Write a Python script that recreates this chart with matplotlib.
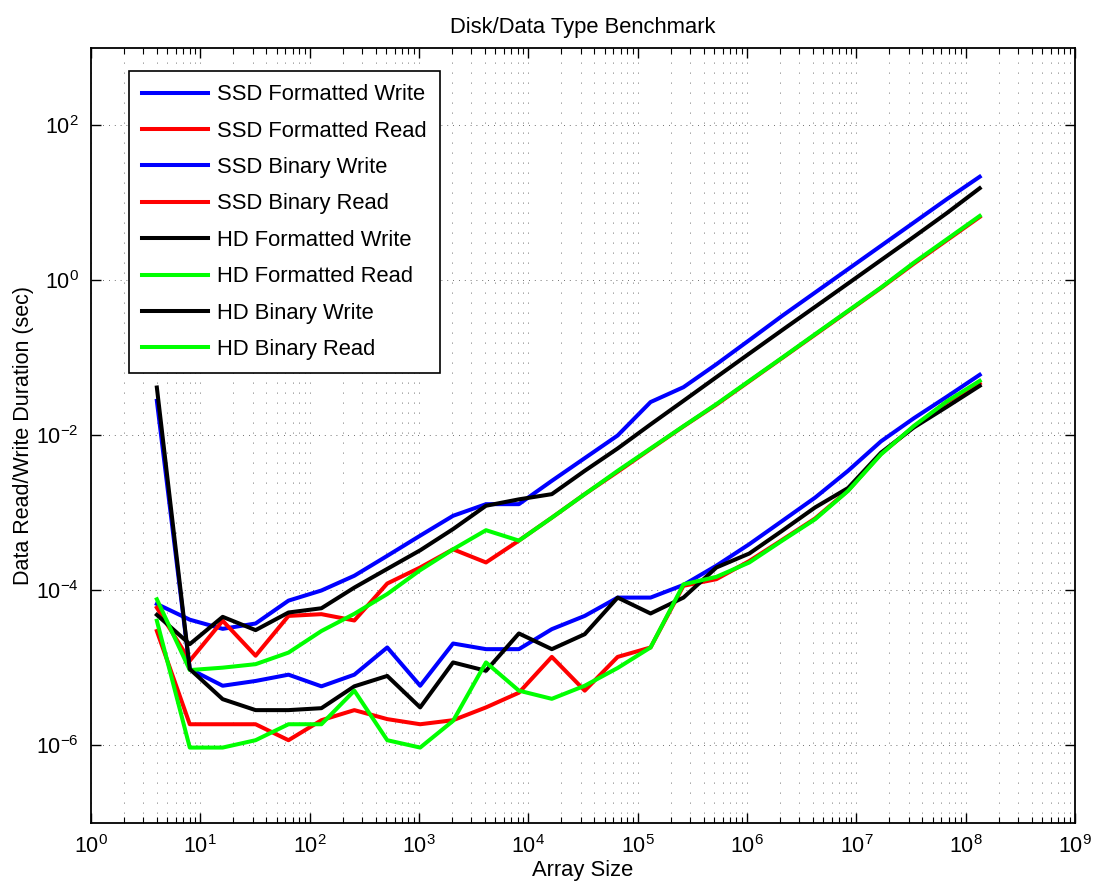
import numpy as np
import matplotlib
matplotlib.use('Agg')
import matplotlib.pyplot as plt
from matplotlib.ticker import LogLocator, NullLocator, NullFormatter

plt.rcParams['font.family'] = ['Liberation Sans', 'DejaVu Sans']
plt.rcParams['mathtext.fontset'] = 'custom'
plt.rcParams['mathtext.rm'] = 'Liberation Sans'

# array sizes (2^2 .. 2^27)
array_size = [4, 8, 16, 32, 64, 128, 256, 512, 1024, 2048, 4096, 8192,
              16384, 32768, 65536, 131072, 262144, 524288, 1048576,
              2097152, 4194304, 8388608, 16777216, 33554432, 67108864,
              134217728]

ssd_fmt_write = [6.7e-5, 4.2e-5, 3.2e-5, 3.75e-5, 7.4e-5, 1.0e-4, 1.55e-4,
                 2.8e-4, 5.1e-4, 9.2e-4, 1.3e-3, 1.3e-3, 2.6e-3, 5.1e-3,
                 1.0e-2, 0.027, 0.042, 0.083, 0.17, 0.35, 0.70, 1.4, 2.8,
                 5.6, 11.2, 21.8]
ssd_fmt_read = [6.0e-5, 1.24e-5, 4.07e-5, 1.44e-5, 4.7e-5, 4.95e-5, 4.1e-5,
                1.23e-4, 1.98e-4, 3.4e-4, 2.3e-4, 4.4e-4, 8.7e-4, 1.75e-3,
                3.4e-3, 6.7e-3, 0.0131, 0.025, 0.050, 0.10, 0.20, 0.40,
                0.80, 1.65, 3.3, 6.6]
ssd_bin_write = [0.028, 9.7e-6, 5.9e-6, 6.8e-6, 8.2e-6, 5.8e-6, 8.2e-6,
                 1.84e-5, 5.9e-6, 2.07e-5, 1.75e-5, 1.75e-5, 3.17e-5, 4.7e-5,
                 8.1e-5, 8.1e-5, 1.18e-4, 2.09e-4, 3.96e-4, 7.9e-4, 1.58e-3,
                 3.5e-3, 8.4e-3, 0.0167, 0.0316, 0.0607]
ssd_bin_read = [3.0e-5, 1.88e-6, 1.88e-6, 1.88e-6, 1.17e-6, 2.12e-6, 2.86e-6,
                2.19e-6, 1.88e-6, 2.12e-6, 3.1e-6, 4.8e-6, 1.39e-5, 5.1e-6,
                1.39e-5, 1.84e-5, 1.15e-4, 1.4e-4, 2.4e-4, 4.5e-4, 8.5e-4,
                1.95e-3, 5.8e-3, 0.013, 0.027, 0.047]
hd_fmt_write = [4.85e-5, 2.03e-5, 4.57e-5, 3.08e-5, 5.2e-5, 5.9e-5, 1.09e-4,
                1.9e-4, 3.3e-4, 6.2e-4, 1.24e-3, 1.5e-3, 1.75e-3, 3.5e-3,
                6.8e-3, 0.0139, 0.028, 0.0566, 0.114, 0.229, 0.457, 0.914,
                1.83, 3.66, 7.4, 15.5]
hd_fmt_read = [7.7e-5, 9.4e-6, 1.01e-5, 1.12e-5, 1.58e-5, 3.0e-5, 5.0e-5,
               9.0e-5, 1.83e-4, 3.4e-4, 6.0e-4, 4.4e-4, 8.7e-4, 1.75e-3,
               3.5e-3, 6.8e-3, 0.0132, 0.0254, 0.0507, 0.101, 0.203, 0.406,
               0.81, 1.7, 3.4, 6.8]
hd_bin_write = [0.0416, 9.7e-6, 3.96e-6, 2.86e-6, 2.86e-6, 3.03e-6, 5.8e-6,
                7.9e-6, 3.1e-6, 1.18e-5, 9.2e-6, 2.79e-5, 1.75e-5, 2.73e-5,
                8.1e-5, 5.05e-5, 8.1e-5, 1.98e-4, 3.0e-4, 5.9e-4, 1.18e-3,
                2.1e-3, 6.0e-3, 0.0127, 0.0234, 0.0437]
hd_bin_read = [4.07e-5, 9.4e-7, 9.4e-7, 1.17e-6, 1.88e-6, 1.88e-6, 5.1e-6,
               1.17e-6, 9.4e-7, 2.08e-6, 1.18e-5, 5.1e-6, 4.0e-6, 5.9e-6,
               1.0e-5, 1.84e-5, 1.2e-4, 1.5e-4, 2.3e-4, 4.4e-4, 8.3e-4,
               1.93e-3, 5.7e-3, 0.0133, 0.0275, 0.0507]

labels = ['SSD Formatted Write', 'SSD Formatted Read', 'SSD Binary Write',
          'SSD Binary Read', 'HD Formatted Write', 'HD Formatted Read',
          'HD Binary Write', 'HD Binary Read']
series = [ssd_fmt_write, ssd_fmt_read, ssd_bin_write, ssd_bin_read,
          hd_fmt_write, hd_fmt_read, hd_bin_write, hd_bin_read]
colors = ['#0000ff', '#ff0000', '#0000ff', '#ff0000',
          '#000000', '#00ff00', '#000000', '#00ff00']

fig = plt.figure(figsize=(10.94, 8.82), dpi=100)
ax = fig.add_axes([0.0832, 0.0669, 0.8995, 0.8787])

lines = []
for y, c, lab in zip(series, colors, labels):
    ln, = ax.loglog(array_size, y, color=c, lw=2.9, label=lab)
    lines.append(ln)

ax.set_xlim(1, 1e9)
ax.set_ylim(1e-7, 1e3)
ax.set_xticks([10.0 ** i for i in range(10)])
ax.xaxis.set_minor_locator(LogLocator(base=10, subs=range(2, 10), numticks=30))
ax.xaxis.set_minor_formatter(NullFormatter())
ax.set_yticks([1e-6, 1e-4, 1e-2, 1, 1e2])
ax.yaxis.set_minor_locator(NullLocator())

# matlab style dotted grid
ax.grid(True, which='major', axis='x', color='0.25', lw=0.6, linestyle=(0, (1, 11)))
ax.grid(True, which='minor', axis='x', color='0.25', lw=0.6, linestyle=(0, (1, 11)))
ax.grid(True, which='major', axis='y', color='0.25', lw=0.6, linestyle=(0, (1, 6)))

ax.tick_params(which='both', direction='in', top=True, right=True,
               labelsize=15.5, pad=9)
ax.tick_params(which='major', length=7, width=1)
ax.tick_params(which='minor', length=4, width=0.8)
for s in ax.spines.values():
    s.set_linewidth(1.3)

ax.set_title('Disk/Data Type Benchmark', fontsize=15.8, pad=11)
ax.set_xlabel('Array Size', fontsize=15.8, labelpad=1)
ax.set_ylabel('Data Read/Write Duration (sec)', fontsize=15.5, labelpad=1)

leg = ax.legend(lines, labels, loc='upper left', bbox_to_anchor=(0.0386, 0.970),
                borderaxespad=0, fontsize=15.8, handlelength=3.0,
                handletextpad=0.4, labelspacing=0.7, borderpad=0.6,
                fancybox=False, framealpha=1, edgecolor='black')
leg.get_frame().set_linewidth(1.2)

fig.savefig('out.png', dpi=100)
